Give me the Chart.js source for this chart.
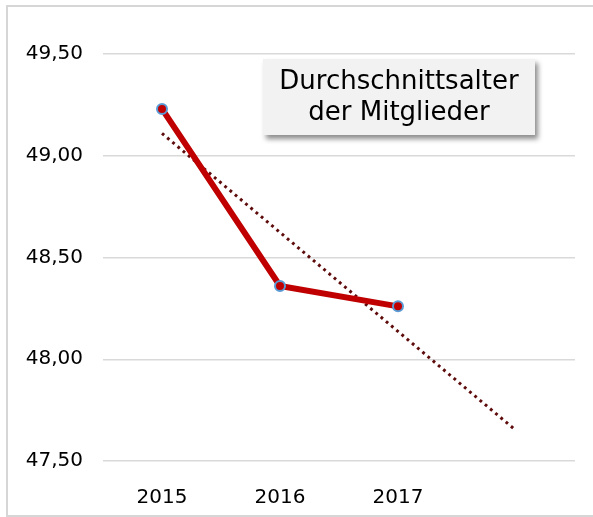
<!DOCTYPE html>
<html>
<head>
<meta charset="utf-8">
<script src="https://cdn.jsdelivr.net/npm/chart.js@4/dist/chart.umd.min.js"></script>
<style>
  body { margin: 0; background: #fff; overflow: hidden; }
  .rahmen { position: absolute; left: 6px; top: 5px; width: 620px; height: 508px;
            border: 2px solid #d6d6d6; border-right: none; background: #fff; }
  #diagramm { position: absolute; left: 0; top: 0; }
  .titelBox { position: absolute; left: 263px; top: 59px; width: 272px; height: 76px;
              box-sizing: border-box; padding-top: 6px; background: #f2f2f2;
              box-shadow: 3px 4px 5px rgba(0,0,0,0.45);
              font-family: "DejaVu Sans", Verdana, sans-serif; font-size: 26px;
              line-height: 31px; text-align: center; color: #000; }
</style>
</head>
<body>
<div class="rahmen"></div>
<canvas id="diagramm" width="593" height="517"></canvas>
<div class="titelBox">Durchschnittsalter<br>der Mitglieder</div>
<script>
// Daten
const jahre = ["2015", "2016", "2017", ""];
const durchschnittsalter = [49.23, 48.36, 48.26, null];
const trendlinie = [49.11, null, null, 47.65];
const yTicks = [47.5, 48.0, 48.5, 49.0, 49.5];

const schrift = { family: "DejaVu Sans", size: 20 };

const diagramm = new Chart(document.getElementById("diagramm"), {
    type: "line",
    data: {
        labels: jahre,
        datasets: [
            {
                data: durchschnittsalter,
                borderColor: "#c00000",
                borderWidth: 6,
                pointRadius: 5,
                pointBackgroundColor: "#c00000",
                pointBorderColor: "#5b9bd5",
                pointBorderWidth: 2,
                tension: 0,
                order: 1
            },
            {
                data: trendlinie,
                borderColor: "#5e0b0b",
                borderWidth: 3,
                borderDash: [2.8, 4],
                pointRadius: 0,
                spanGaps: true,
                order: 2
            }
        ]
    },
    options: {
        responsive: false,
        animation: false,
        devicePixelRatio: 1,
        layout: { padding: { top: 54, right: 18, bottom: 0, left: 0 } },
        plugins: {
            legend: { display: false },
            tooltip: { enabled: false }
        },
        scales: {
            x: {
                offset: true,
                grid: { display: false },
                border: { display: false },
                ticks: { font: schrift, color: "#000", padding: 17 },
                afterFit: (s) => { s.height = 56; }
            },
            y: {
                min: 47.5,
                max: 49.5,
                afterBuildTicks: (s) => { s.ticks = yTicks.map(v => ({ value: v })); },
                grid: { color: "#d9d9d9", lineWidth: 1.5, drawTicks: false },
                border: { display: false },
                ticks: {
                    font: schrift,
                    color: "#000",
                    padding: 20,
                    callback: (v) => v.toFixed(2).replace(".", ",")
                },
                afterFit: (s) => { s.width = 103; }
            }
        }
    }
});
</script>
</body>
</html>
